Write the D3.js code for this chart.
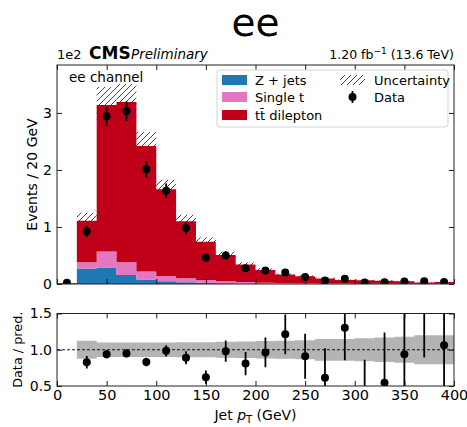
<!DOCTYPE html>
<html>
<head>
<meta charset="utf-8">
<script src="https://cdn.jsdelivr.net/npm/d3@7"></script>
<style>
  body { margin: 0; background: #fff; }
  svg { display: block; }
  text { font-family: "DejaVu Sans", sans-serif; fill: #000; }
</style>
</head>
<body>
<svg id="chart" width="467" height="427"></svg>
<script>
// Jet pT binning (GeV), lower bin edges, 20 GeV wide
const binLow = [0, 20, 40, 60, 80, 100, 120, 140, 160, 180, 200, 220, 240, 260, 280, 300, 320, 340, 360, 380];
const binWidth = 20;

// Expected events per bin, in units of 1e2
const zJets      = [0, 0.27, 0.29, 0.16, 0.08, 0.05, 0.03, 0.02, 0.012, 0.008, 0.006, 0.004, 0.003, 0.002, 0.002, 0.001, 0.001, 0.001, 0.001, 0.001];
const singleTop  = [0, 0.11, 0.28, 0.22, 0.14, 0.09, 0.07, 0.05, 0.035, 0.025, 0.018, 0.013, 0.010, 0.008, 0.006, 0.005, 0.004, 0.003, 0.003, 0.002];
const ttDilepton = [0.012, 0.73, 2.57, 2.81, 2.20, 1.52, 1.00, 0.67, 0.463, 0.307, 0.221, 0.148, 0.122, 0.088, 0.061, 0.059, 0.050, 0.044, 0.024, 0.030];

// Relative uncertainty of the prediction (no band in the first bin)
const relUnc = [null, 0.125, 0.10, 0.10, 0.10, 0.10, 0.105, 0.105, 0.11, 0.115, 0.12, 0.125, 0.13, 0.15, 0.15, 0.16, 0.17, 0.18, 0.20, 0.20];

// Observed events (1e2) and their errors
const dataVals = [0.02, 0.92, 2.94, 3.03, 2.01, 1.635, 0.98, 0.46, 0.50, 0.275, 0.236, 0.20, 0.123, 0.060, 0.090, 0.026, 0.030, 0.045, 0.050, 0.035];
const dataErr  = [0.014, 0.096, 0.171, 0.174, 0.142, 0.128, 0.099, 0.068, 0.075, 0.055, 0.050, 0.045, 0.042, 0.040, 0.031, 0.030, 0.038, 0.035, 0.025, 0.030];

// Tick values
const xTicks = [0, 50, 100, 150, 200, 250, 300, 350, 400];
const mainTicks = [0, 1, 2, 3];
const ratioTicks = [0.5, 1.0, 1.5];

const colors = { z: "#1f77b4", st: "#e377c2", tt: "#c00018" };

const svg = d3.select("#chart");

// Panel geometry
const L = 57, R = 454;
const mT = 65, mB = 284;      // main panel
const rT = 313.5, rB = 386;   // ratio panel

const x = d3.scaleLinear().domain([0, 400]).range([L, R]);
const y = d3.scaleLinear().domain([0, 3.84]).range([mB, mT]);
const yr = d3.scaleLinear().domain([0.5, 1.5]).range([rB, rT]);

const defs = svg.append("defs");
defs.append("clipPath").attr("id", "clipMain")
  .append("rect").attr("x", L).attr("y", mT).attr("width", R - L).attr("height", mB - mT);
defs.append("clipPath").attr("id", "clipRatio")
  .append("rect").attr("x", L).attr("y", rT).attr("width", R - L).attr("height", rB - rT);
const hatch = defs.append("pattern").attr("id", "hatch")
  .attr("patternUnits", "userSpaceOnUse").attr("width", 6).attr("height", 6);
hatch.append("path").attr("d", "M-1,1 l2,-2 M0,6 l6,-6 M5,7 l2,-2")
  .attr("stroke", "#333").attr("stroke-width", 0.9).attr("fill", "none");

// ---------- Main panel ----------
const table = binLow.map((lo, i) => ({ lo, z: zJets[i], st: singleTop[i], tt: ttDilepton[i] }));
const total = table.map(d => d.z + d.st + d.tt);
const layers = d3.stack().keys(["z", "st", "tt"])(table);

const stepArea = d3.area()
  .x(p => p.x).y0(p => p.y0).y1(p => p.y1)
  .curve(d3.curveStepAfter);

const gMain = svg.append("g").attr("clip-path", "url(#clipMain)");

layers.forEach(layer => {
  const pts = layer.map(s => ({ x: x(s.data.lo), y0: y(s[0]), y1: y(s[1]) }));
  const last = layer[layer.length - 1];
  pts.push({ x: x(last.data.lo + binWidth), y0: y(last[0]), y1: y(last[1]) });
  gMain.append("path").attr("d", stepArea(pts)).attr("fill", colors[layer.key]);
});

// Hatched uncertainty on the total prediction
gMain.selectAll("rect.unc")
  .data(binLow.map((lo, i) => ({ lo, t: total[i], u: relUnc[i] })).filter(d => d.u !== null))
  .join("rect").attr("class", "unc")
  .attr("x", d => x(d.lo))
  .attr("width", d => x(d.lo + binWidth) - x(d.lo))
  .attr("y", d => y(d.t * (1 + d.u)))
  .attr("height", d => y(d.t * (1 - d.u)) - y(d.t * (1 + d.u)))
  .attr("fill", "url(#hatch)");

// Data points
const pts = binLow.map((lo, i) => ({ c: lo + binWidth / 2, v: dataVals[i], e: dataErr[i] }));
gMain.selectAll("line.err").data(pts).join("line").attr("class", "err")
  .attr("x1", d => x(d.c)).attr("x2", d => x(d.c))
  .attr("y1", d => y(d.v - d.e)).attr("y2", d => y(d.v + d.e))
  .attr("stroke", "#000").attr("stroke-width", 1.8);
gMain.selectAll("circle.pt").data(pts).join("circle").attr("class", "pt")
  .attr("cx", d => x(d.c)).attr("cy", d => y(d.v)).attr("r", 4).attr("fill", "#000");

// ---------- Ratio panel ----------
const gRatio = svg.append("g").attr("clip-path", "url(#clipRatio)");
const bandIdx = binLow.map((lo, i) => i).filter(i => relUnc[i] !== null);
const bandPts = bandIdx.map(i => ({ x: x(binLow[i]), y0: yr(1 - relUnc[i]), y1: yr(1 + relUnc[i]) }));
const lastB = bandIdx[bandIdx.length - 1];
bandPts.push({ x: x(binLow[lastB] + binWidth), y0: yr(1 - relUnc[lastB]), y1: yr(1 + relUnc[lastB]) });
gRatio.append("path").attr("d", stepArea(bandPts)).attr("fill", "#b4b4b4");

gRatio.append("line")
  .attr("x1", L).attr("x2", R).attr("y1", yr(1)).attr("y2", yr(1))
  .attr("stroke", "#000").attr("stroke-width", 0.9).attr("stroke-dasharray", "3,2");

const ratioPts = bandIdx.map(i => ({
  c: binLow[i] + binWidth / 2,
  r: dataVals[i] / total[i],
  e: dataErr[i] / total[i]
}));
gRatio.selectAll("line.rerr").data(ratioPts).join("line").attr("class", "rerr")
  .attr("x1", d => x(d.c)).attr("x2", d => x(d.c))
  .attr("y1", d => yr(d.r - d.e)).attr("y2", d => yr(d.r + d.e))
  .attr("stroke", "#000").attr("stroke-width", 1.8);
gRatio.selectAll("circle.rpt").data(ratioPts).join("circle").attr("class", "rpt")
  .attr("cx", d => x(d.c)).attr("cy", d => yr(d.r)).attr("r", 4).attr("fill", "#000");

// ---------- Axes ----------
function styleAxis(g, fontSize) {
  g.select(".domain").remove();
  g.selectAll(".tick line").attr("stroke", "#000").attr("stroke-width", 0.9);
  g.selectAll(".tick text").attr("font-size", fontSize).attr("fill", "#000")
    .attr("font-family", "DejaVu Sans, sans-serif");
}
const tk = 5;
// main panel
svg.append("g").attr("transform", `translate(0,${mB})`)
  .call(d3.axisBottom(x).tickValues(xTicks).tickSize(-tk).tickFormat(""))
  .call(g => styleAxis(g, 13));
svg.append("g").attr("transform", `translate(0,${mT})`)
  .call(d3.axisTop(x).tickValues(xTicks).tickSize(-tk).tickFormat(""))
  .call(g => styleAxis(g, 13));
svg.append("g").attr("transform", `translate(${L},0)`)
  .call(d3.axisLeft(y).tickValues(mainTicks).tickSize(-tk).tickPadding(5).tickFormat(d3.format("d")))
  .call(g => styleAxis(g, 14));
svg.append("g").attr("transform", `translate(${R},0)`)
  .call(d3.axisRight(y).tickValues(mainTicks).tickSize(-tk).tickFormat(""))
  .call(g => styleAxis(g, 13));
// ratio panel
svg.append("g").attr("transform", `translate(0,${rB})`)
  .call(d3.axisBottom(x).tickValues(xTicks).tickSize(-tk).tickPadding(4).tickFormat(d3.format("d")))
  .call(g => styleAxis(g, 14.5));
svg.append("g").attr("transform", `translate(0,${rT})`)
  .call(d3.axisTop(x).tickValues(xTicks).tickSize(-tk).tickFormat(""))
  .call(g => styleAxis(g, 13));
svg.append("g").attr("transform", `translate(${L},0)`)
  .call(d3.axisLeft(yr).tickValues(ratioTicks).tickSize(-tk).tickPadding(5).tickFormat(d3.format(".1f")))
  .call(g => styleAxis(g, 14));
svg.append("g").attr("transform", `translate(${R},0)`)
  .call(d3.axisRight(yr).tickValues(ratioTicks).tickSize(-tk).tickFormat(""))
  .call(g => styleAxis(g, 13));

// frames
[[mT, mB], [rT, rB]].forEach(([t, b]) => {
  svg.append("rect").attr("x", L).attr("y", t).attr("width", R - L).attr("height", b - t)
    .attr("fill", "none").attr("stroke", "#222").attr("stroke-width", 1);
});

// ---------- Labels ----------
svg.append("text").attr("x", (L + R) / 2).attr("y", 36).attr("text-anchor", "middle")
  .attr("font-family", "Open Sans, sans-serif").attr("font-size", 39).text("ee");

svg.append("text").attr("x", L).attr("y", 59).attr("font-size", 13).text("1e2");
svg.append("text").attr("x", 89).attr("y", 59).attr("font-family", "Liberation Sans, sans-serif")
  .attr("font-weight", "bold").attr("font-size", 17).text("CMS");
svg.append("text").attr("x", 131).attr("y", 59).attr("font-family", "Liberation Sans, sans-serif")
  .attr("font-style", "italic").attr("font-size", 13.5).text("Preliminary");

const lumi = svg.append("text").attr("x", R).attr("y", 59).attr("text-anchor", "end").attr("font-size", 12.5);
lumi.append("tspan").text("1.20 fb");
lumi.append("tspan").attr("dy", -5).attr("font-size", 9).text("\u22121");
lumi.append("tspan").attr("dy", 5).text(" (13.6 TeV)");

svg.append("text").attr("x", 69).attr("y", 82).attr("font-size", 13.5).text("ee channel");

svg.append("text").attr("transform", `translate(37,${(mT + mB) / 2}) rotate(-90)`)
  .attr("text-anchor", "middle").attr("font-size", 14).text("Events / 20 GeV");
svg.append("text").attr("transform", `translate(22,${(rT + rB) / 2}) rotate(-90)`)
  .attr("text-anchor", "middle").attr("font-size", 12.8).text("Data / pred.");

const xl = svg.append("text").attr("x", (L + R) / 2).attr("y", 420).attr("text-anchor", "middle").attr("font-size", 14);
xl.append("tspan").text("Jet ");
xl.append("tspan").attr("font-style", "italic").text("p");
xl.append("tspan").attr("dy", 3).attr("font-size", 10).text("T");
xl.append("tspan").attr("dy", -3).text(" (GeV)");

// ---------- Legend ----------
const lg = svg.append("g");
lg.append("rect").attr("x", 217).attr("y", 70).attr("width", 231).attr("height", 57).attr("rx", 3)
  .attr("fill", "#fff").attr("fill-opacity", 0.85).attr("stroke", "#d4d4d4").attr("stroke-width", 1);
const legRows = [
  { key: "z", label: "Z + jets", y: 80 },
  { key: "st", label: "Single t", y: 97 },
  { key: "tt", label: "t\u0074\u0304 dilepton", y: 115 }
];
legRows.forEach(r => {
  lg.append("rect").attr("x", 222).attr("y", r.y - 5).attr("width", 25).attr("height", 10).attr("fill", colors[r.key]);
  lg.append("text").attr("x", 255).attr("y", r.y + 4.5).attr("font-size", 13).text(r.label);
});
lg.append("rect").attr("x", 340).attr("y", 75).attr("width", 25).attr("height", 10).attr("fill", "url(#hatch)");
lg.append("text").attr("x", 374).attr("y", 84.5).attr("font-size", 13).text("Uncertainty");
lg.append("line").attr("x1", 352.5).attr("x2", 352.5).attr("y1", 91).attr("y2", 103).attr("stroke", "#000").attr("stroke-width", 1.8);
lg.append("circle").attr("cx", 352.5).attr("cy", 97).attr("r", 4).attr("fill", "#000");
lg.append("text").attr("x", 374).attr("y", 101.5).attr("font-size", 13).text("Data");
</script>
</body>
</html>
